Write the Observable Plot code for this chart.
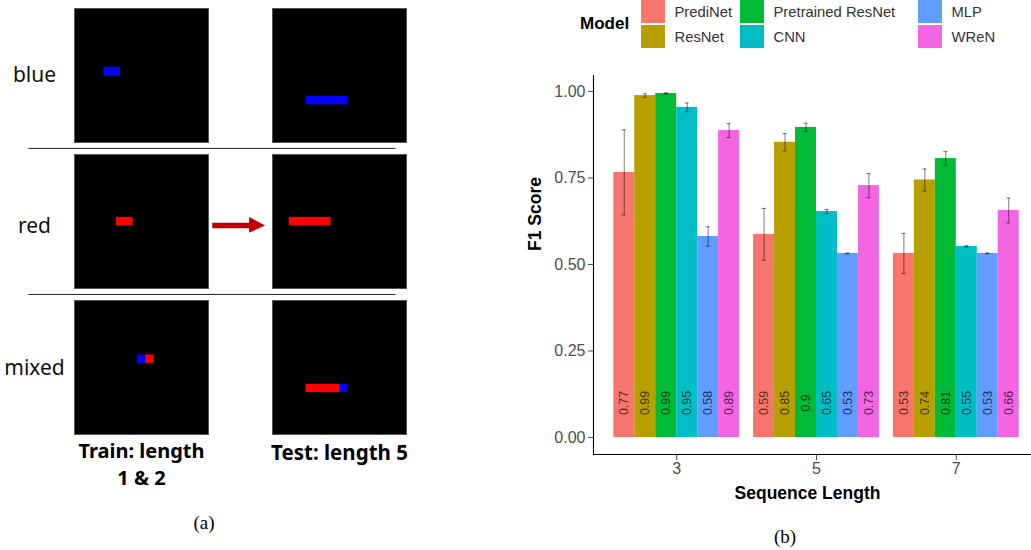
<!DOCTYPE html>
<html><head><meta charset="utf-8">
<script src="https://cdn.jsdelivr.net/npm/d3@7"></script>
<script src="https://cdn.jsdelivr.net/npm/@observablehq/plot@0.6"></script>
<style>
html,body{margin:0;padding:0;background:#fff;overflow:hidden;}
#page{position:relative;width:1031px;height:550px;overflow:hidden;}
#left{position:absolute;left:0;top:0;width:420px;}
#right{position:absolute;left:520px;top:60px;width:519px;}
#right svg,#left svg{max-width:none !important;}
#legend{position:absolute;left:580px;top:0;display:flex;align-items:center;font-family:"Liberation Sans",Arial,sans-serif;}
.ltitle{font-weight:bold;font-size:17px;color:#000;width:61px;}
.lgrid{display:grid;grid-template-rows:23px 23px;grid-auto-flow:column;grid-template-columns:99px 178px 120px;row-gap:2px;}
.litem{display:flex;align-items:center;font-size:14.8px;color:#333;white-space:nowrap;}
.sw{width:23.5px;height:23px;margin-right:10px;flex:none;}
.cap{position:absolute;font-family:"Liberation Serif","Times New Roman",serif;font-size:19px;transform:translate(-50%,-50%);}
</style></head>
<body>
<div id="page">
  <div id="left"></div>
  <div id="legend"></div>
  <div id="right"></div>
  <div class="cap" style="left:204px;top:523px;">(a)</div>
  <div class="cap" style="left:785px;top:537px;">(b)</div>
</div>
<script>
// ---------- Panel (a): illustration data (grid units of a 32x32 image) ----------
const rowNames = ["blue", "red", "mixed"];
const phases = ["train", "test"];
const phaseLabels = ["Train: length\n1 & 2", "Test: length 5"];
const cellRows   = ["blue", "blue", "red", "red", "mixed", "mixed", "mixed", "mixed"];
const cellPhases = ["train", "test", "train", "test", "train", "train", "test", "test"];
const cellColors = ["blue", "blue", "red", "red", "blue", "red", "red", "blue"];
const cellX0 = [7, 8, 10, 4, 15, 17, 8, 16];
const cellX1 = [11, 18, 14, 14, 17, 19, 16, 18];
const cellY0 = [14, 21, 15, 15, 13, 13, 20, 20];
const cellY1 = [16, 23, 17, 17, 15, 15, 22, 22];
const arrowX = [32.9, 41.7, 41.7, 45.5, 41.7, 41.7, 32.9];
const arrowY = [16.3, 16.3, 14.9, 16.95, 18.7, 17.6, 17.6];
const separatorRows = ["red", "mixed"];

const cells = cellRows.map((r, i) => ({row: r, phase: cellPhases[i], color: cellColors[i],
  x0: cellX0[i], x1: cellX1[i], y0: cellY0[i], y1: cellY1[i]}));
const arrow = arrowX.map((x, i) => ({x, y: arrowY[i]}));
const rowDy = [0, 5, 1];

const leftMarks = [
  Plot.frame({fill: "black", stroke: "#555", strokeWidth: 1}),
  Plot.rect(cells, {fx: "phase", fy: "row", x1: "x0", x2: "x1", y1: "y0", y2: "y1", fill: "color"}),
  Plot.line(arrow, {fx: () => "train", fy: () => "red", x: "x", y: "y", fill: "#c00000", stroke: "none"}),
  Plot.ruleY(separatorRows, {fx: () => "train", fy: d => d, y: () => -1.45, x1: () => -10.9, x2: () => 76.8, stroke: "#222", strokeWidth: 1}),
  ...rowNames.map((r, i) => Plot.text([r], {fx: () => "train", fy: d => d, text: d => d, frameAnchor: "left",
     dx: -40, dy: rowDy[i], textAnchor: "middle", fontSize: 21, fontFamily: "Noto Sans", fill: "#111"})),
  Plot.text([phaseLabels[0]], {fx: () => "train", fy: () => "mixed", text: d => d, frameAnchor: "bottom",
     lineAnchor: "top", dy: 4, fontSize: 20, fontWeight: "bold", lineHeight: 1.35, fontFamily: "Noto Sans", fill: "#000"}),
  Plot.text([phaseLabels[1]], {fx: () => "test", fy: () => "mixed", text: d => d, frameAnchor: "bottom",
     lineAnchor: "top", dy: 11, fontSize: 20.5, fontWeight: "bold", fontFamily: "Noto Sans", fill: "#000"})
];

const left = Plot.plot({
  width: 420, height: 550,
  marginLeft: 73, marginRight: 13, marginTop: 7, marginBottom: 114,
  style: {maxWidth: "none"},
  fx: {domain: phases, axis: null, paddingInner: 0.3216, paddingOuter: 0},
  fy: {domain: rowNames, axis: null, paddingInner: 0.0816, paddingOuter: 0},
  x: {domain: [0, 32], axis: null},
  y: {domain: [0, 32], reverse: true, axis: null},
  color: {domain: ["blue", "red"], range: ["#1f00ff", "#ff0000"]},
  marks: leftMarks
});
document.getElementById("left").appendChild(left);

// ---------- Panel (b): F1 scores ----------
const lengths = [3, 5, 7];
const models = ["PrediNet", "ResNet", "Pretrained ResNet", "CNN", "MLP", "WReN"];
const palette = ["#F8766D", "#B79F00", "#00BA38", "#00BFC4", "#619CFF", "#F564E3"];
const prediNet         = [0.766, 0.587, 0.532];
const resNet           = [0.988, 0.853, 0.744];
const pretrainedResNet = [0.994, 0.896, 0.806];
const cnn              = [0.954, 0.653, 0.552];
const mlp              = [0.581, 0.532, 0.532];
const wren             = [0.887, 0.728, 0.656];
const prediNetErr         = [0.123, 0.075, 0.058];
const resNetErr           = [0.005, 0.025, 0.032];
const pretrainedResNetErr = [0.002, 0.012, 0.020];
const cnnErr              = [0.0125, 0.006, 0.002];
const mlpErr              = [0.028, 0.001, 0.001];
const wrenErr             = [0.020, 0.035, 0.036];
const yTicks = [0, 0.25, 0.5, 0.75, 1];

const series = [prediNet, resNet, pretrainedResNet, cnn, mlp, wren];
const errs = [prediNetErr, resNetErr, pretrainedResNetErr, cnnErr, mlpErr, wrenErr];
const data = [];
models.forEach((m, i) => lengths.forEach((L, j) => data.push({model: m, i, len: L, value: series[i][j], err: errs[i][j]})));

const groupWidth = 1.8, barW = groupWidth / models.length;
const bx1 = d => d.len - groupWidth / 2 + d.i * barW;
const bx2 = d => bx1(d) + barW;
const bc = d => bx1(d) + barW / 2;
const xDomain = [1.81, 8.19];
const yDomain = [-0.049, 1.046];
const font = "Liberation Sans, Arial, sans-serif";

const right = Plot.plot({
  width: 519, height: 450,
  marginLeft: 73, marginRight: 0, marginTop: 15, marginBottom: 56,
  style: {fontFamily: font, background: "white", maxWidth: "none"},
  x: {domain: xDomain},
  y: {domain: yDomain},
  color: {domain: models, range: palette},
  marks: [
    Plot.rect(data, {x1: bx1, x2: bx2, y1: () => 0, y2: "value", fill: "model"}),
    Plot.ruleX(data, {x: bc, y1: d => d.value - d.err, y2: d => d.value + d.err, stroke: "black", strokeOpacity: 0.5, strokeWidth: 1}),
    Plot.ruleY(data, {y: d => d.value + d.err, x1: d => bc(d) - 0.03, x2: d => bc(d) + 0.03, stroke: "black", strokeOpacity: 0.5, strokeWidth: 1}),
    Plot.ruleY(data, {y: d => d.value - d.err, x1: d => bc(d) - 0.03, x2: d => bc(d) + 0.03, stroke: "black", strokeOpacity: 0.5, strokeWidth: 1}),
    Plot.text(data, {x: bc, y: () => 0.1, text: d => String(Math.round(d.value * 100) / 100), rotate: -90,
      fontSize: 12.5, fill: "black", fillOpacity: 0.7, fontFamily: font}),
    Plot.axisY({ticks: yTicks, tickFormat: d3.format(".2f"), tickSize: 5, tickPadding: 3, fontSize: 16, color: "#4d4d4d", label: null}),
    Plot.axisX({ticks: lengths, tickFormat: d => String(d), tickSize: 6, tickPadding: 2, fontSize: 16, color: "#4d4d4d", label: null}),
    Plot.ruleX([xDomain[0]], {stroke: "black", strokeWidth: 1.1}),
    Plot.ruleY([yDomain[0]], {stroke: "black", strokeWidth: 1.1}),
    Plot.text(["F1 Score"], {text: d => d, frameAnchor: "left", rotate: -90, dx: -58, dy: -14, fontSize: 17.5, fontWeight: "bold", fill: "black", fontFamily: font}),
    Plot.text(["Sequence Length"], {text: d => d, frameAnchor: "bottom", lineAnchor: "middle", dx: -9, dy: 39, fontSize: 17.5, fontWeight: "bold", fill: "black", fontFamily: font})
  ]
});
document.getElementById("right").appendChild(right);

// ---------- Legend ----------
const legend = document.getElementById("legend");
const lt = document.createElement("div"); lt.className = "ltitle"; lt.textContent = "Model"; legend.appendChild(lt);
const grid = document.createElement("div"); grid.className = "lgrid"; legend.appendChild(grid);
models.forEach((m, i) => {
  const it = document.createElement("div"); it.className = "litem";
  const sw = document.createElement("span"); sw.className = "sw"; sw.style.background = palette[i];
  it.appendChild(sw); it.appendChild(document.createTextNode(m)); grid.appendChild(it);
});
</script>
</body></html>
